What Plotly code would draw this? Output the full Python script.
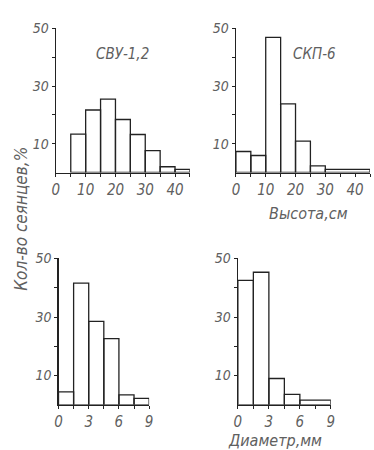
import plotly.graph_objects as go

W, H = 374, 450

# ---- data ----
svu_edges = [5, 10, 15, 20, 25, 30, 35, 40, 45]
svu_values = [13.3, 21.7, 25.5, 18.4, 13.2, 7.6, 2.0, 1.1]

skp_edges = [0, 5, 10, 15, 20, 25, 30, 45]
skp_values = [7.3, 5.9, 46.9, 23.8, 10.9, 2.3, 1.1]

diam1_edges = [0, 1.5, 3, 4.5, 6, 7.5, 9]
diam1_values = [4.4, 41.6, 28.5, 22.6, 3.4, 2.2]

diam2_edges = [0, 1.5, 3, 4.5, 6, 9]
diam2_values = [42.5, 45.3, 9.0, 3.6, 1.6]

height_ticks = [0, 10, 20, 30, 40]
diam_ticks = [0, 3, 6, 9]
y_ticks = [10, 20, 30, 40, 50]
y_tick_text = ["10", "", "30", "", "50"]

LINE = "#222222"
TXT = "#606060"
FONT = "DejaVu Sans Condensed, Liberation Sans Narrow, sans-serif"

fig = go.Figure()

def px_x(p):
    return p / W

def px_y(p):
    return 1 - p / H

panels = [
    (svu_edges, svu_values, "x", "y", (53, 190), (167.5, 20.8), [0, 45], 5, height_ticks),
    (skp_edges, skp_values, "x2", "y2", (237, 374), (167.5, 20.8), [0, 45], 5, height_ticks),
    (diam1_edges, diam1_values, "x3", "y3", (55.7, 148.3), (404, 255), [0, 9], 1.5, diam_ticks),
    (diam2_edges, diam2_values, "x4", "y4", (239, 334), (404, 255), [0, 9], 1.5, diam_ticks),
]

layout_axes = {}
for i, (edges, vals, xa, ya, xd, yd, xr, step, labels) in enumerate(panels):
    centers = [(edges[k] + edges[k + 1]) / 2 for k in range(len(vals))]
    widths = [edges[k + 1] - edges[k] for k in range(len(vals))]
    fig.add_trace(go.Bar(
        x=centers, y=vals, width=widths, xaxis=xa, yaxis=ya,
        marker=dict(color="rgba(255,255,255,0)", line=dict(color=LINE, width=1.3)),
        showlegend=False, hoverinfo="skip",
    ))
    n = int(round((xr[1] - xr[0]) / step))
    tv = [xr[0] + step * k for k in range(n + 1)]
    tt = []
    for v in tv:
        match = [l for l in labels if abs(l - v) < 1e-9]
        tt.append(str(match[0]) if match else "")
    suffix = "" if i == 0 else str(i + 1)
    layout_axes["xaxis" + suffix] = dict(
        domain=[px_x(xd[0]), min(1, px_x(xd[1]))], range=xr, anchor=ya,
        showline=True, linecolor=LINE, linewidth=1.3, showgrid=False, zeroline=False,
        ticks="outside", ticklen=3, tickcolor=LINE, tickwidth=1,
        tickvals=tv, ticktext=tt,
        tickfont=dict(family=FONT, size=15, color=TXT, style="italic"),
        fixedrange=True,
    )
    layout_axes["yaxis" + suffix] = dict(
        domain=[px_y(yd[0]), px_y(yd[1])], range=[0, 50], anchor=xa,
        showline=True, linecolor=LINE, linewidth=1.3, showgrid=False, zeroline=False,
        ticks="outside", ticklen=3, tickcolor=LINE, tickwidth=1,
        tickvals=y_ticks, ticktext=y_tick_text,
        tickfont=dict(family=FONT, size=14, color=TXT, style="italic"),
        fixedrange=True,
    )

annots = [
    dict(text="СВУ-1,2", x=px_x(121), y=px_y(47), size=15),
    dict(text="СКП-6", x=px_x(317), y=px_y(47), size=15),
    dict(text="Высота,см", x=px_x(311), y=px_y(209), size=16),
    dict(text="Диаметр,мм", x=px_x(277), y=px_y(440), size=16),
]
annotations = []
for a in annots:
    annotations.append(dict(
        text=a["text"], x=a["x"], y=a["y"], xref="paper", yref="paper",
        xanchor="center", yanchor="middle", showarrow=False,
        font=dict(family=FONT, size=a["size"], color=TXT, style="italic"),
    ))
annotations.append(dict(
    text="Кол-во сеянцев,%", x=px_x(18), y=px_y(215), xref="paper", yref="paper",
    xanchor="center", yanchor="middle", showarrow=False, textangle=-90,
    font=dict(family=FONT, size=17, color=TXT, style="italic"),
))

fig.update_layout(
    width=W, height=H, margin=dict(l=0, r=0, t=0, b=0),
    paper_bgcolor="white", plot_bgcolor="rgba(0,0,0,0)",
    annotations=annotations, barmode="overlay",
    **layout_axes,
)

fig.write_html(
    "out.html",
    config={"displayModeBar": False, "staticPlot": True},
    post_script="document.body.style.margin='0px';document.body.style.overflow='hidden';",
)
